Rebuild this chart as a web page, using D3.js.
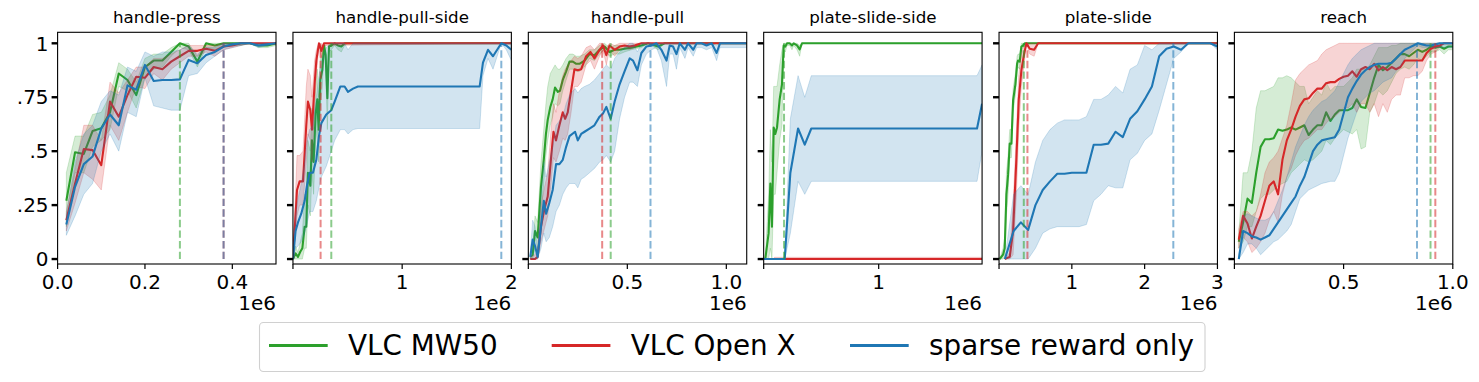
<!DOCTYPE html>
<html><head><meta charset="utf-8">
<script src="https://cdn.jsdelivr.net/npm/d3@7"></script>
<style>body{margin:0;background:#fff;} svg{display:block;font-family:"DejaVu Sans",sans-serif;}</style>
</head><body><svg id="c" width="1479" height="382"></svg>
<script>
// ---------- labels ----------
const titles = ["handle-press","handle-pull-side","handle-pull","plate-slide-side","plate-slide","reach"];
const seriesNames = ["VLC MW50","VLC Open X","sparse reward only"];
const colors = ["#2ca02c","#d62728","#1f77b4"];
const xMax = [0.5, 2.0, 1.103, 1.899, 3.0, 1.0];
const xTicks = [[0,0.2,0.4],[0,1,2],[0,0.5,1.0],[0,1],[0,1,2,3],[0,0.5,1.0]];
const xTickLabels = [["0.0","0.2","0.4"],["","1","2"],["","0.5","1.0"],["","1"],["","1","2","3"],["","0.5","1.0"]];
const yTicks = [0,0.25,0.5,0.75,1];
const yTickLabels = ["0",".25",".5",".75","1"];

// ---------- handle-press ----------
const pressX = [0.02,0.04,0.06,0.08,0.10,0.12,0.14,0.16,0.18,0.20,0.22,0.24,0.26,0.28,0.30,0.32,0.34,0.36,0.38,0.40,0.42,0.44,0.46,0.48,0.50];
const pressGreen = [0.27,0.495,0.487,0.593,0.606,0.68,0.86,0.83,0.76,0.89,0.92,0.92,0.96,1.0,0.985,0.915,1.0,0.99,1.0,1.0,1.0,1.0,0.99,0.99,1.0];
const pressGreenLo = [0.15,0.40,0.40,0.52,0.55,0.60,0.80,0.78,0.70,0.84,0.88,0.89,0.94,0.98,0.97,0.89,0.98,0.97,0.99,0.99,0.99,1.0,0.98,0.98,0.99];
const pressGreenHi = [0.40,0.57,0.57,0.67,0.68,0.76,0.91,0.88,0.82,0.93,0.95,0.95,0.98,1.0,1.0,0.94,1.0,1.0,1.0,1.0,1.0,1.0,1.0,1.0,1.0];
const pressRed = [0.18,0.35,0.51,0.505,0.435,0.73,0.66,0.76,0.845,0.84,0.89,0.88,0.915,0.94,0.965,0.965,0.975,0.965,0.985,0.99,1.0,1.0,1.0,1.0,1.0];
const pressRedLo = [0.13,0.26,0.40,0.37,0.32,0.62,0.55,0.68,0.80,0.79,0.86,0.83,0.88,0.91,0.94,0.94,0.96,0.94,0.97,0.98,0.99,1.0,1.0,1.0,1.0];
const pressRedHi = [0.22,0.42,0.62,0.62,0.55,0.82,0.77,0.83,0.89,0.89,0.93,0.93,0.95,0.97,0.99,0.99,0.99,0.99,1.0,1.0,1.0,1.0,1.0,1.0,1.0];
const pressBlue = [0.16,0.335,0.44,0.475,0.605,0.67,0.62,0.805,0.785,0.90,0.825,0.83,0.83,0.833,0.923,0.907,0.946,0.96,0.985,0.995,1.0,1.0,0.99,0.995,1.0];
const pressBlueLo = [0.11,0.20,0.30,0.35,0.50,0.58,0.50,0.68,0.66,0.84,0.71,0.70,0.69,0.69,0.85,0.86,0.91,0.94,0.97,0.98,0.99,1.0,0.98,0.99,1.0];
const pressBlueHi = [0.21,0.45,0.58,0.62,0.73,0.78,0.76,0.89,0.87,0.96,0.94,0.96,0.96,0.97,0.99,0.95,0.98,0.98,1.0,1.0,1.0,1.0,1.0,1.0,1.0];
const pressDash = [0.28, 0.38, 0.38];

// ---------- handle-pull-side ----------
const pullSideGreenX = [0,0.024,0.046,0.067,0.086,0.107,0.122,0.137,0.159,0.174,0.189,0.208,0.223,0.235,0.25,0.269,0.284,0.299,0.315,0.33,0.351,0.382,0.412,0.443,0.473,0.504,2.0];
const pullSideGreen = [0,0.026,0.01,0.034,0.05,0.15,0.15,0.40,0.34,0.55,0.45,0.675,0.74,0.60,0.83,0.876,0.99,0.946,0.745,0.985,0.99,1.0,0.99,0.985,1.0,1.0,1.0];
const pullSideGreenLo = [0,0,0,0,0,0.05,0.05,0.25,0.2,0.4,0.3,0.55,0.6,0.45,0.7,0.8,0.97,0.9,0.6,0.96,0.97,0.99,0.97,0.96,0.99,1.0,1.0];
const pullSideGreenHi = [0,0.06,0.03,0.08,0.12,0.3,0.3,0.55,0.5,0.7,0.6,0.8,0.88,0.75,0.93,0.95,1.0,0.99,0.88,1.0,1.0,1.0,1.0,1.0,1.0,1.0,1.0];
const pullSideRedX = [0,0.037,0.061,0.092,0.122,0.137,0.159,0.174,0.198,0.214,0.238,0.26,0.284,2.0];
const pullSideRed = [0,0.32,0.36,0.36,0.62,0.73,0.69,0.60,0.81,0.92,1.0,0.965,1.0,1.0];
const pullSideRedLo = [0,0.2,0.25,0.25,0.45,0.58,0.55,0.45,0.7,0.85,0.99,0.93,0.99,1.0];
const pullSideRedHi = [0,0.48,0.48,0.5,0.8,0.88,0.85,0.75,0.92,0.97,1.0,0.99,1.0,1.0];
const pullSideBlueX = [0,0.024,0.046,0.076,0.107,0.128,0.153,0.183,0.214,0.238,0.26,0.305,0.351,0.382,0.434,0.473,0.504,0.55,0.595,1.71,1.74,1.786,1.832,1.908,1.954,2.0];
const pullSideBlue = [0,0.13,0.17,0.21,0.27,0.34,0.40,0.40,0.46,0.57,0.63,0.67,0.69,0.73,0.80,0.80,0.775,0.79,0.80,0.80,0.91,0.97,0.94,1.0,0.99,0.97];
const pullSideBlueLo = [0,0.05,0.06,0.08,0.12,0.16,0.22,0.22,0.27,0.33,0.38,0.43,0.5,0.55,0.6,0.6,0.58,0.6,0.605,0.605,0.85,0.93,0.88,1.0,0.97,0.92];
const pullSideBlueHi = [0,0.2,0.28,0.35,0.45,0.55,0.6,0.62,0.75,0.85,0.92,0.98,1.0,1.0,1.0,1.0,0.97,1.0,1.0,1.0,1.0,1.0,1.0,1.0,1.0,1.0];
const pullSideDash = [0.351, 0.253, 1.908];

// ---------- handle-pull ----------
const pullGreenX = [0.010,0.022,0.034,0.047,0.064,0.078,0.089,0.098,0.111,0.123,0.135,0.149,0.160,0.174,0.191,0.208,0.225,0.242,0.258,0.284,0.309,0.334,0.360,0.385,0.410,0.436,0.461,0.486,0.520,0.571,0.605,0.655,0.689,1.103];
const pullGreen = [0.01,0.02,0.13,0.10,0.335,0.46,0.58,0.645,0.705,0.74,0.795,0.775,0.78,0.83,0.87,0.915,0.915,0.905,0.905,0.92,0.95,0.945,0.97,0.985,0.96,0.97,0.97,0.975,0.98,0.99,1.0,0.985,1.0,1.0];
const pullGreenLo = [0,0,0.05,0.03,0.2,0.35,0.48,0.55,0.62,0.66,0.72,0.71,0.72,0.78,0.83,0.88,0.88,0.87,0.87,0.89,0.93,0.92,0.95,0.97,0.94,0.95,0.95,0.96,0.97,0.98,1.0,0.97,1.0,1.0];
const pullGreenHi = [0.02,0.05,0.2,0.17,0.45,0.6,0.72,0.8,0.86,0.88,0.9,0.88,0.88,0.9,0.93,0.95,0.95,0.94,0.94,0.95,0.97,0.97,0.99,1.0,0.98,0.99,0.99,0.99,0.99,1.0,1.0,1.0,1.0,1.0];
const pullRedX = [0.010,0.034,0.047,0.064,0.081,0.098,0.115,0.127,0.140,0.157,0.174,0.186,0.199,0.216,0.233,0.250,0.267,0.292,0.314,0.334,0.360,0.377,0.394,0.410,0.436,0.461,0.486,0.512,0.537,0.571,1.103];
const pullRed = [0,0,0.01,0.15,0.23,0.29,0.47,0.59,0.55,0.62,0.68,0.65,0.68,0.78,0.88,0.875,0.88,0.94,0.96,0.93,0.97,0.99,0.945,0.99,0.97,0.985,0.99,0.985,0.99,1.0,1.0];
const pullRedLo = [0,0,0,0.08,0.14,0.2,0.35,0.47,0.45,0.5,0.56,0.55,0.58,0.68,0.8,0.8,0.82,0.9,0.92,0.88,0.94,0.97,0.9,0.97,0.94,0.97,0.98,0.97,0.98,1.0,1.0];
const pullRedHi = [0.01,0.02,0.04,0.25,0.33,0.4,0.6,0.72,0.68,0.78,0.85,0.88,0.9,0.92,0.94,0.93,0.94,0.98,0.99,0.97,1.0,1.0,0.98,1.0,0.99,1.0,1.0,1.0,1.0,1.0,1.0];
const pullBlueX = [0.010,0.022,0.034,0.047,0.064,0.078,0.090,0.106,0.123,0.140,0.157,0.174,0.191,0.208,0.236,0.250,0.267,0.284,0.309,0.334,0.360,0.377,0.394,0.416,0.436,0.461,0.486,0.512,0.529,0.551,0.571,0.596,0.622,0.647,0.672,0.698,0.714,0.731,0.748,0.765,0.791,0.807,0.833,0.85,0.875,0.9,0.926,0.951,0.968,1.103];
const pullBlue = [0.01,0.09,0.06,0.01,0.15,0.27,0.21,0.26,0.32,0.44,0.44,0.46,0.52,0.57,0.59,0.55,0.58,0.59,0.605,0.62,0.66,0.675,0.705,0.65,0.73,0.81,0.87,0.93,0.92,0.875,0.955,0.985,0.99,1.0,0.97,0.92,0.99,0.985,0.95,1.0,0.97,1.0,0.97,1.0,1.0,0.99,1.0,0.955,1.0,1.0];
const pullBlueLo = [0,0,0,0,0.05,0.12,0.08,0.1,0.15,0.22,0.25,0.3,0.33,0.35,0.35,0.33,0.37,0.38,0.40,0.42,0.45,0.46,0.48,0.45,0.5,0.65,0.75,0.82,0.82,0.80,0.9,0.95,0.97,0.98,0.92,0.8,0.95,0.95,0.88,0.98,0.93,0.98,0.94,0.98,0.98,0.97,0.98,0.92,0.98,0.98];
const pullBlueHi = [0.03,0.18,0.15,0.05,0.3,0.45,0.38,0.45,0.52,0.62,0.64,0.66,0.72,0.76,0.79,0.77,0.79,0.8,0.81,0.83,0.86,0.88,0.9,0.88,0.93,0.96,0.98,1.0,1.0,0.96,1.0,1.0,1.0,1.0,1.0,1.0,1.0,1.0,1.0,1.0,1.0,1.0,1.0,1.0,1.0,1.0,1.0,0.99,1.0,1.0];
const pullDash = [0.416, 0.373, 0.617];

// ---------- plate-slide-side ----------
const slideSideGreenX = [0.014,0.043,0.058,0.072,0.087,0.101,0.116,0.139,0.159,0.174,0.188,0.203,0.226,0.246,0.261,0.290,0.313,0.333,1.899];
const slideSideGreen = [0,0.12,0.35,0.15,0.61,0.58,0.61,0.74,0.81,0.99,0.985,1.0,1.0,0.99,1.0,0.99,0.972,1.0,1.0];
const slideSideGreenLo = [0,0,0.05,0,0.3,0.3,0.4,0.55,0.62,0.97,0.96,0.99,0.99,0.97,0.99,0.97,0.94,1.0,1.0];
const slideSideGreenHi = [0,0.3,0.6,0.45,0.8,0.8,0.8,0.9,0.97,1.0,1.0,1.0,1.0,1.0,1.0,1.0,0.99,1.0,1.0];
const slideSideRedX = [0.093,1.899];
const slideSideRed = [0,0];
const slideSideRedLo = [0,0];
const slideSideRedHi = [0.008,0.008];
const slideSideBlueX = [0,0.183,0.232,0.299,0.357,0.414,1.855,1.899];
const slideSideBlue = [0,0,0.40,0.605,0.53,0.605,0.605,0.72];
const slideSideBlueLo = [0,0,0.12,0.36,0.30,0.36,0.36,0.5];
const slideSideBlueHi = [0,0,0.65,0.85,0.75,0.85,0.85,0.9];
const slideSideDash = [0.177, null, null];

// ---------- plate-slide ----------
const slideGreenX = [0.009,0.055,0.078,0.101,0.124,0.147,0.170,0.193,0.225,0.248,0.261,0.284,0.307,0.330,0.353,0.399,3.0];
const slideGreen = [0,0.02,0.05,0.30,0.39,0.535,0.535,0.735,0.81,0.905,0.92,0.915,0.985,0.99,1.0,1.0,1.0];
const slideGreenLo = [0,0,0.01,0.2,0.3,0.47,0.47,0.68,0.76,0.87,0.89,0.88,0.97,0.98,1.0,1.0,1.0];
const slideGreenHi = [0,0.05,0.1,0.4,0.48,0.6,0.6,0.79,0.86,0.94,0.95,0.95,1.0,1.0,1.0,1.0,1.0];
const slideRedX = [0.078,0.147,0.193,0.239,0.271,0.307,0.344,0.376,0.422,0.482,0.537,0.606,3.0];
const slideRed = [0,0.01,0.13,0.47,0.74,0.875,0.95,1.0,0.975,0.97,1.0,1.0,1.0];
const slideRedLo = [0,0,0.02,0.3,0.6,0.8,0.9,1.0,0.95,0.94,1.0,1.0,1.0];
const slideRedHi = [0,0.03,0.25,0.6,0.85,0.95,0.99,1.0,1.0,1.0,1.0,1.0,1.0];
const slideBlueX = [0.08,0.2,0.3,0.4,0.5,0.6,0.7,0.8,0.9,1.0,1.1,1.2,1.3,1.4,1.5,1.6,1.7,1.8,1.9,2.0,2.1,2.2,2.3,2.4,2.5,2.6,2.7,2.8,2.9,3.0];
const slideBlue = [0,0.13,0.17,0.135,0.25,0.32,0.36,0.395,0.395,0.40,0.40,0.40,0.53,0.53,0.535,0.59,0.565,0.65,0.685,0.74,0.80,0.94,0.975,0.985,0.97,1.0,1.0,1.0,1.0,0.985];
const slideBlueLo = [0,0,0,0,0.05,0.12,0.14,0.15,0.15,0.15,0.15,0.16,0.27,0.30,0.34,0.33,0.33,0.46,0.49,0.55,0.58,0.69,0.81,0.93,0.96,1.0,1.0,1.0,1.0,0.97];
const slideBlueHi = [0,0.3,0.34,0.3,0.45,0.55,0.6,0.63,0.645,0.645,0.645,0.66,0.74,0.74,0.76,0.80,0.77,0.88,0.90,0.99,0.97,1.0,1.0,1.0,1.0,1.0,1.0,1.0,1.0,1.0];
const slideDash = [0.34, 0.39, 2.394];

// ---------- reach ----------
const reachX = [0.02,0.04,0.06,0.08,0.10,0.12,0.14,0.16,0.18,0.20,0.22,0.24,0.26,0.28,0.30,0.32,0.34,0.36,0.38,0.40,0.42,0.44,0.46,0.48,0.50,0.52,0.54,0.56,0.58,0.60,0.62,0.64,0.66,0.68,0.70,0.72,0.74,0.76,0.78,0.80,0.82,0.84,0.86,0.88,0.90,0.92,0.94,0.96,0.98,1.00];
const reachGreen = [0.08,0.17,0.28,0.26,0.40,0.52,0.555,0.555,0.56,0.60,0.595,0.60,0.61,0.60,0.61,0.62,0.575,0.60,0.62,0.62,0.68,0.64,0.67,0.69,0.69,0.69,0.70,0.74,0.705,0.70,0.77,0.84,0.90,0.875,0.89,0.91,0.93,0.95,0.95,0.94,0.955,0.97,0.96,0.97,0.985,0.98,0.985,0.975,0.985,0.985];
const reachGreenLo = [0.05,0.08,0.15,0.15,0.22,0.28,0.30,0.30,0.32,0.34,0.35,0.36,0.40,0.42,0.44,0.46,0.45,0.46,0.48,0.50,0.55,0.53,0.56,0.58,0.60,0.59,0.58,0.60,0.51,0.52,0.68,0.72,0.78,0.76,0.78,0.82,0.86,0.88,0.89,0.88,0.90,0.93,0.92,0.94,0.96,0.96,0.97,0.95,0.97,0.97];
const reachGreenHi = [0.12,0.40,0.40,0.50,0.70,0.78,0.78,0.79,0.80,0.84,0.84,0.85,0.84,0.82,0.80,0.80,0.72,0.75,0.78,0.76,0.82,0.78,0.80,0.80,0.80,0.82,0.84,0.88,0.88,0.88,0.90,0.94,0.98,0.98,0.98,0.99,0.99,1.0,1.0,1.0,1.0,1.0,1.0,1.0,1.0,1.0,1.0,1.0,1.0,1.0];
const reachRed = [0.09,0.20,0.165,0.095,0.15,0.20,0.27,0.34,0.36,0.30,0.46,0.55,0.60,0.66,0.71,0.74,0.745,0.77,0.79,0.79,0.815,0.82,0.82,0.835,0.845,0.85,0.87,0.845,0.88,0.89,0.88,0.905,0.875,0.89,0.875,0.89,0.88,0.89,0.92,0.92,0.92,0.92,0.92,0.955,0.975,0.985,0.99,1.0,1.0,1.0];
const reachRedLo = [0.05,0.10,0.08,0.03,0.05,0.08,0.12,0.18,0.22,0.17,0.30,0.38,0.42,0.48,0.52,0.55,0.56,0.58,0.60,0.60,0.63,0.65,0.66,0.68,0.70,0.70,0.72,0.68,0.72,0.72,0.68,0.72,0.66,0.72,0.68,0.74,0.76,0.76,0.84,0.84,0.85,0.85,0.87,0.92,0.95,0.96,0.98,1.0,1.0,1.0];
const reachRedHi = [0.14,0.22,0.22,0.20,0.22,0.30,0.40,0.45,0.47,0.50,0.56,0.62,0.72,0.83,0.86,0.88,0.90,0.91,0.92,0.95,0.97,0.98,0.99,1.0,1.0,1.0,1.0,1.0,1.0,1.0,1.0,1.0,1.0,1.0,1.0,1.0,1.0,1.0,1.0,1.0,1.0,1.0,1.0,1.0,1.0,1.0,1.0,1.0,1.0,1.0];
const reachBlue = [0.0,0.13,0.12,0.105,0.10,0.09,0.10,0.11,0.14,0.17,0.20,0.23,0.26,0.29,0.34,0.38,0.44,0.50,0.53,0.55,0.555,0.56,0.565,0.60,0.675,0.75,0.79,0.825,0.855,0.875,0.89,0.90,0.905,0.905,0.905,0.91,0.93,0.95,0.97,0.98,0.99,1.0,0.995,0.99,0.99,0.995,1.0,1.0,1.0,1.0];
const reachBlueLo = [0.0,0.03,0.07,0.07,0.05,0.02,0.04,0.06,0.08,0.09,0.11,0.13,0.16,0.22,0.28,0.30,0.32,0.33,0.34,0.35,0.355,0.36,0.36,0.40,0.48,0.56,0.62,0.68,0.73,0.75,0.77,0.78,0.80,0.82,0.83,0.84,0.87,0.89,0.93,0.95,0.97,0.99,0.98,0.98,0.98,0.98,0.98,0.98,0.98,0.98];
const reachBlueHi = [0.02,0.20,0.21,0.20,0.19,0.18,0.18,0.19,0.22,0.27,0.32,0.38,0.45,0.52,0.57,0.62,0.66,0.69,0.71,0.73,0.74,0.76,0.78,0.82,0.86,0.90,0.93,0.95,0.97,0.98,0.99,1.0,1.0,1.0,1.0,1.0,1.0,1.0,1.0,1.0,1.0,1.0,1.0,1.0,1.0,1.0,1.0,1.0,1.0,1.0];
const reachDash = [0.898, 0.92, 0.836];

// ---------- assemble ----------
function ser(x, m, lo, hi){ return {x, m, lo, hi}; }
const panelSeries = [
  [ser(pressX,pressGreen,pressGreenLo,pressGreenHi), ser(pressX,pressRed,pressRedLo,pressRedHi), ser(pressX,pressBlue,pressBlueLo,pressBlueHi)],
  [ser(pullSideGreenX,pullSideGreen,pullSideGreenLo,pullSideGreenHi), ser(pullSideRedX,pullSideRed,pullSideRedLo,pullSideRedHi), ser(pullSideBlueX,pullSideBlue,pullSideBlueLo,pullSideBlueHi)],
  [ser(pullGreenX,pullGreen,pullGreenLo,pullGreenHi), ser(pullRedX,pullRed,pullRedLo,pullRedHi), ser(pullBlueX,pullBlue,pullBlueLo,pullBlueHi)],
  [ser(slideSideGreenX,slideSideGreen,slideSideGreenLo,slideSideGreenHi), ser(slideSideRedX,slideSideRed,slideSideRedLo,slideSideRedHi), ser(slideSideBlueX,slideSideBlue,slideSideBlueLo,slideSideBlueHi)],
  [ser(slideGreenX,slideGreen,slideGreenLo,slideGreenHi), ser(slideRedX,slideRed,slideRedLo,slideRedHi), ser(slideBlueX,slideBlue,slideBlueLo,slideBlueHi)],
  [ser(reachX,reachGreen,reachGreenLo,reachGreenHi), ser(reachX,reachRed,reachRedLo,reachRedHi), ser(reachX,reachBlue,reachBlueLo,reachBlueHi)]
];
const panelDash = [pressDash, pullSideDash, pullDash, slideSideDash, slideDash, reachDash];

// ---------- draw ----------
const svg = d3.select("#c");
const left0 = 57.6, step = 235.36, pw = 218.4, axTop = 32.3, axBottom = 264;
const y = d3.scaleLinear().domain([-0.023, 1.051]).range([axBottom, axTop]);

titles.forEach((t, p) => {
  const L = left0 + p*step;
  const x = d3.scaleLinear().domain([0, xMax[p]]).range([L, L+pw]);
  const g = svg.append("g");
  const cid = "clip"+p;
  svg.append("clipPath").attr("id", cid).append("rect")
    .attr("x", L).attr("y", axTop).attr("width", pw).attr("height", axBottom-axTop);
  const plot = g.append("g").attr("clip-path", `url(#${cid})`);

  panelSeries[p].forEach((s, k) => {
    const pts = s.x.map((xv, i) => ({x: xv, m: s.m[i], lo: s.lo[i], hi: s.hi[i]}));
    plot.append("path").datum(pts)
      .attr("d", d3.area().x(d => x(d.x)).y0(d => y(d.lo)).y1(d => y(d.hi)))
      .attr("fill", colors[k]).attr("fill-opacity", 0.2).attr("stroke", colors[k]).attr("stroke-opacity", 0.2).attr("stroke-width", 1);
    plot.append("path").datum(pts)
      .attr("d", d3.line().x(d => x(d.x)).y(d => y(d.m)))
      .attr("fill", "none").attr("stroke", colors[k]).attr("stroke-width", 2.1)
      .attr("stroke-linejoin", "round").attr("stroke-linecap", "butt");
  });
  panelDash[p].forEach((dv, k) => {
    if (dv === null) return;
    plot.append("line").attr("x1", x(dv)).attr("x2", x(dv)).attr("y1", y(0)).attr("y2", y(1))
      .attr("stroke", colors[k]).attr("stroke-opacity", 0.55).attr("stroke-width", 2)
      .attr("stroke-dasharray", "7.4,3.2");
  });

  // spines
  g.append("rect").attr("x", L).attr("y", axTop).attr("width", pw).attr("height", axBottom-axTop)
    .attr("fill", "none").attr("stroke", "#000").attr("stroke-width", 1.1);

  // y ticks
  yTicks.forEach((tv, i) => {
    g.append("line").attr("x1", L).attr("x2", L-6).attr("y1", y(tv)).attr("y2", y(tv))
      .attr("stroke", "#000").attr("stroke-width", 2.4);
    if (p === 0) {
      g.append("text").attr("x", L-9).attr("y", y(tv)).attr("dy", "0.36em")
        .attr("text-anchor", "end").attr("font-size", 20).attr("fill", "#000").text(yTickLabels[i]);
    }
  });
  // x ticks
  xTicks[p].forEach((tv, i) => {
    g.append("line").attr("x1", x(tv)).attr("x2", x(tv)).attr("y1", axBottom).attr("y2", axBottom+5)
      .attr("stroke", "#000").attr("stroke-width", 1.2);
    if (xTickLabels[p][i] !== "") {
      g.append("text").attr("x", x(tv)).attr("y", 289).attr("text-anchor", "middle")
        .attr("font-size", 20).attr("fill", "#000").text(xTickLabels[p][i]);
    }
  });
  g.append("text").attr("x", L+pw).attr("y", 310).attr("text-anchor", "end")
    .attr("font-size", 20).attr("fill", "#000").text("1e6");
  // title
  g.append("text").attr("x", L+pw/2).attr("y", 23.3).attr("text-anchor", "middle")
    .attr("font-size", 16.7).attr("fill", "#000").text(t);
});

// legend
const lg = svg.append("g");
lg.append("rect").attr("x", 259.5).attr("y", 322.5).attr("width", 945.5).attr("height", 49)
  .attr("rx", 4).attr("fill", "#fff").attr("fill-opacity", 0.8).attr("stroke", "#d0d0d0").attr("stroke-width", 1.1);
const legX = [269, 551.7, 850];
seriesNames.forEach((n, k) => {
  lg.append("line").attr("x1", legX[k]).attr("x2", legX[k]+58.7).attr("y1", 345.5).attr("y2", 345.5)
    .attr("stroke", colors[k]).attr("stroke-width", 2.8);
  lg.append("text").attr("x", legX[k]+79).attr("y", 354.7).attr("font-size", 27.8).attr("fill", "#000").text(n);
});
</script>
</body></html>
